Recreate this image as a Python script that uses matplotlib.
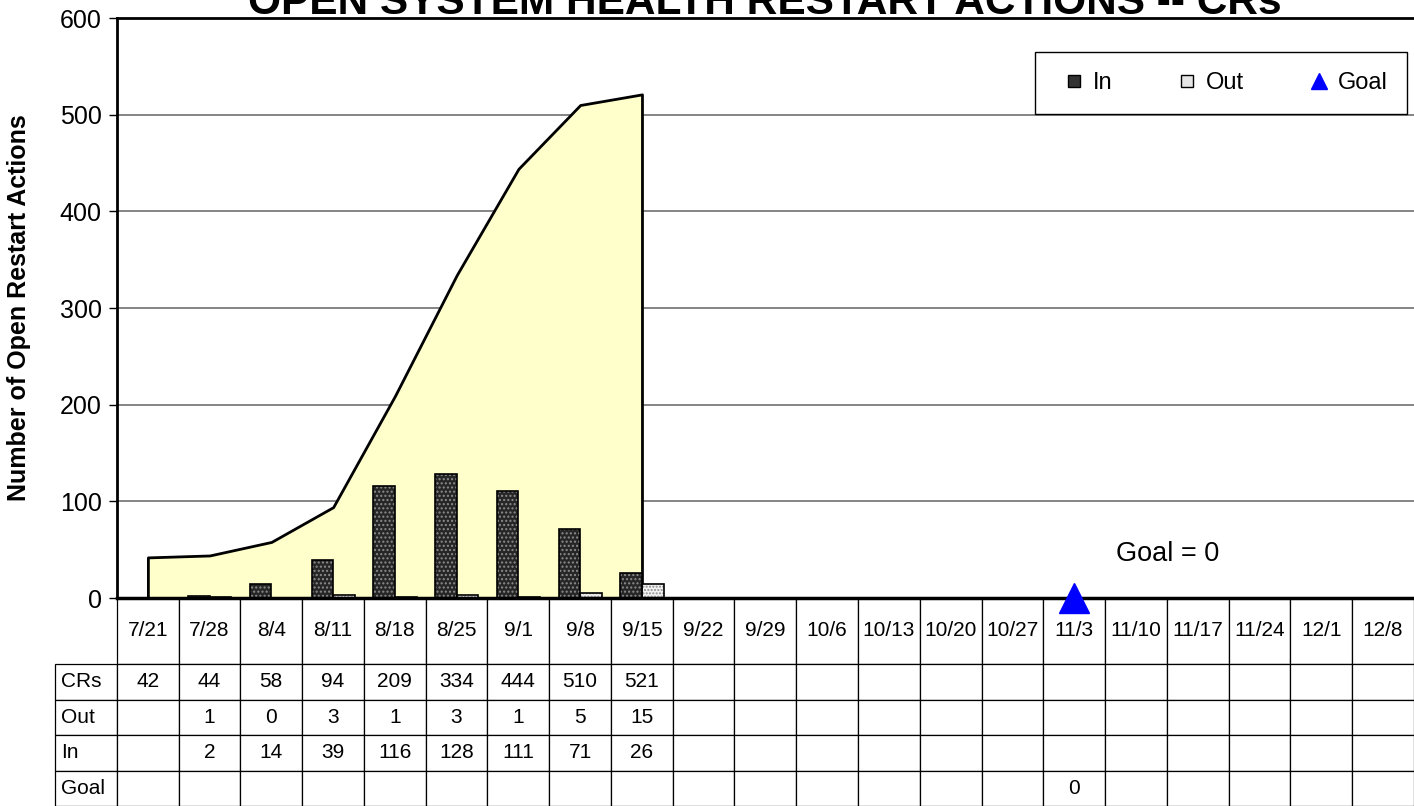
import numpy as np
import matplotlib
matplotlib.use('Agg')
import matplotlib.pyplot as plt
from matplotlib.patches import Patch, Rectangle
from matplotlib.lines import Line2D
from matplotlib.legend_handler import HandlerPatch
from matplotlib.table import Table

plt.rcParams['font.family'] = ['Liberation Sans', 'DejaVu Sans']
plt.rcParams['hatch.linewidth'] = 1.0

# podaci
weeks = ['7/21', '7/28', '8/4', '8/11', '8/18', '8/25', '9/1', '9/8', '9/15',
         '9/22', '9/29', '10/6', '10/13', '10/20', '10/27', '11/3', '11/10',
         '11/17', '11/24', '12/1', '12/8']
crs = [42, 44, 58, 94, 209, 334, 444, 510, 521]
out_vals = [None, 1, 0, 3, 1, 3, 1, 5, 15]
in_vals = [None, 2, 14, 39, 116, 128, 111, 71, 26]
goal_week = '11/3'
goal_val = 0
row_names = ['CRs', 'Out', 'In', 'Goal']

x = np.arange(len(weeks))
n = len(crs)
goal_x = weeks.index(goal_week)
goal_row = [goal_val if w == goal_week else None for w in weeks]

fig = plt.figure(figsize=(14.14, 8.06), dpi=100)
ax = fig.add_axes([117 / 1414, 208 / 806, 1297 / 1414, 580 / 806])

# povrsina CRs
ax.fill_between(x[:n], crs, 0, facecolor='#FFFFCC', edgecolor='black', lw=2, zorder=2)

# stupci In / Out
bw = 0.35
in_h = [v if v is not None else 0 for v in in_vals]
out_h = [v if v is not None else 0 for v in out_vals]
xi = x[:n] - bw / 2
xo = x[:n] + bw / 2

plt.rcParams['hatch.color'] = '#8c8c8c'
ax.bar(xi, in_h, bw, color='#262626', hatch='....', zorder=3)
ax.bar(xi, in_h, bw, facecolor='none', edgecolor='black', lw=1.2, zorder=4)
ax.bar(xo, out_h, bw, color='#f2f2f2', hatch='.....', zorder=3)
ax.bar(xo, out_h, bw, facecolor='none', edgecolor='black', lw=1.2, zorder=4)

# cilj
ax.plot([goal_x], [goal_val], marker='^', color='blue', markersize=22,
        linestyle='none', clip_on=False, zorder=20)
ax.text(15.675, 46, 'Goal = 0', fontsize=19.5, ha='left', va='center')

ax.set_xlim(-0.5, len(weeks) - 0.5)
ax.set_ylim(0, 600)
ax.set_xticks([])
ax.set_yticks(range(0, 601, 100))
ax.tick_params(axis='y', labelsize=18, length=6, width=1, direction='out', pad=5)
ax.yaxis.grid(True, color='#6f6f6f', lw=1.2, zorder=0)
ax.set_axisbelow(True)
ax.spines['right'].set_visible(False)
ax.spines['top'].set_linewidth(2)
ax.spines['left'].set_linewidth(2)
ax.spines['bottom'].set_linewidth(2.5)
for s in ax.spines.values():
    s.set_zorder(6)


# mali kvadratic u legendi
def mali_kvadrat(legend, orig_handle, xdescent, ydescent, width, height, fontsize):
    s = 9
    return Rectangle((width / 2 - s / 2 - xdescent, height / 2 - s / 2 - ydescent), s, s)


handles = [Patch(facecolor='#333333', edgecolor='black'),
           Patch(facecolor='#e6e6e6', edgecolor='black'),
           Line2D([], [], marker='^', color='blue', linestyle='none', markersize=12)]
leg = ax.legend(handles, ['In', 'Out', 'Goal'], ncol=3, loc='upper left',
                bbox_to_anchor=(0.708, 0.941), frameon=True, fancybox=False,
                edgecolor='black', framealpha=1, fontsize=17, handlelength=1.6,
                handleheight=0.7, handletextpad=0.0, columnspacing=2.35,
                borderpad=0.85, borderaxespad=0, numpoints=1,
                handler_map={Patch: HandlerPatch(patch_func=mali_kvadrat)})
leg.get_frame().set_linewidth(1)

# tablica
tbl = Table(ax, bbox=[-62 / 1297, -208 / 580, 1359 / 1297, 208 / 580])
corner = tbl.add_cell(0, 0, 1, 66, text='', loc='left')
corner.visible_edges = 'open'
for j, w in enumerate(weeks):
    tbl.add_cell(0, j + 1, 1, 66, text=w, loc='center')
for i, (name, vals) in enumerate(zip(row_names, [crs, out_vals, in_vals, goal_row])):
    tbl.add_cell(i + 1, 0, 1, 35.5, text=name, loc='left')
    for j in range(len(weeks)):
        v = vals[j] if j < len(vals) else None
        tbl.add_cell(i + 1, j + 1, 1, 35.5, text='' if v is None else str(v), loc='center')
tbl.auto_set_font_size(False)
tbl.set_fontsize(15)
for cell in tbl.get_celld().values():
    cell.set_linewidth(0.9)
    cell.set_edgecolor('black')
ax.add_table(tbl)

fig.text(0.541, 1 - 14 / 806, 'OPEN SYSTEM HEALTH RESTART ACTIONS -- CRs',
         ha='center', va='baseline', fontsize=30.5, fontweight='bold')
fig.text(19 / 1414, 1 - 308 / 806, 'Number of Open Restart Actions', rotation=90,
         ha='center', va='center', fontsize=18, fontweight='bold')

fig.savefig('out.png', dpi=100)
